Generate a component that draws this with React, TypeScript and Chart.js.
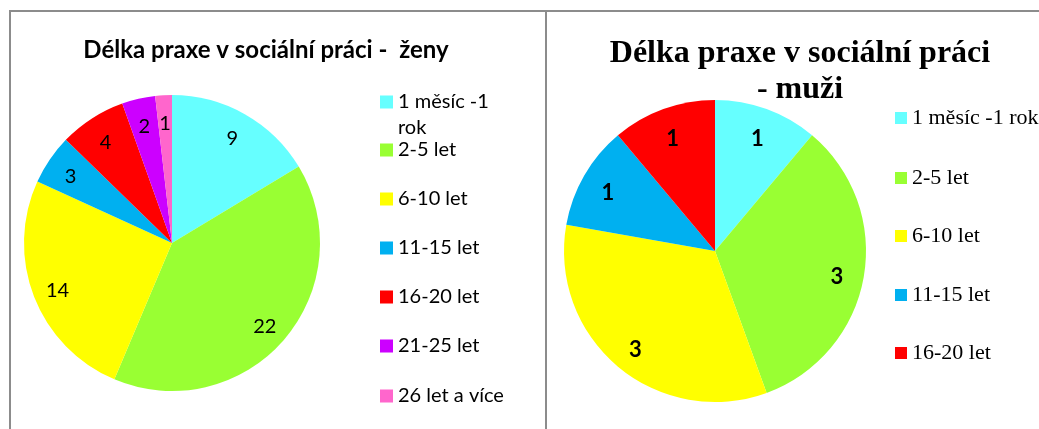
import React, { useEffect, useRef } from "react";
import { Chart, registerables } from "chart.js";

Chart.register(...registerables);

const womenLabels = ["1 měsíc -1 rok", "2-5 let", "6-10 let", "11-15 let", "16-20 let", "21-25 let", "26 let a více"];
const womenLegendLines = [["1 měsíc -1", "rok"], ["2-5 let"], ["6-10 let"], ["11-15 let"], ["16-20 let"], ["21-25 let"], ["26 let a více"]];
const womenValues = [9, 22, 14, 3, 4, 2, 1];
const womenColors = ["#66FFFF", "#99FF33", "#FFFF00", "#00B0F0", "#FF0000", "#CC00FF", "#FF66CC"];
const womenTitle = ["Délka praxe v sociální práci -  ženy"];

const menLabels = ["1 měsíc -1 rok", "2-5 let", "6-10 let", "11-15 let", "16-20 let"];
const menLegendLines = [["1 měsíc -1 rok"], ["2-5 let"], ["6-10 let"], ["11-15 let"], ["16-20 let"]];
const menValues = [1, 3, 3, 1, 1];
const menColors = ["#66FFFF", "#99FF33", "#FFFF00", "#00B0F0", "#FF0000"];
const menTitle = ["Délka praxe v sociální práci", "- muži"];

const W = 1039;
const H = 429;

type Cfg = {
  title: string[];
  titleFont: string;
  titleX: number;
  titleY: number[];
  legendLines: string[][];
  legendFont: string;
  legendBoxX: number;
  legendBox: number;
  legendTextX: number;
  legendY: number[];
  legendLineH: number;
  legendColors: string[];
  labelFont: string;
  labelFactor: number;
  labelDy: number;
};

function makePlugin(cfg: Cfg) {
  return {
    id: "custom",
    afterDraw(chart: any) {
      const ctx = chart.ctx as CanvasRenderingContext2D;
      ctx.save();
      ctx.fillStyle = "#000";
      // title
      ctx.font = cfg.titleFont;
      ctx.textAlign = "center";
      ctx.textBaseline = "alphabetic";
      cfg.title.forEach((t, i) => ctx.fillText(t, cfg.titleX, cfg.titleY[i]));
      // legend
      ctx.font = cfg.legendFont;
      ctx.textAlign = "left";
      ctx.textBaseline = "middle";
      cfg.legendLines.forEach((lines, i) => {
        const y = cfg.legendY[i];
        ctx.fillStyle = cfg.legendColors[i];
        ctx.fillRect(cfg.legendBoxX, y - cfg.legendBox / 2, cfg.legendBox, cfg.legendBox);
        ctx.fillStyle = "#000";
        lines.forEach((l, j) => ctx.fillText(l, cfg.legendTextX, y + j * cfg.legendLineH));
      });
      // data labels
      const meta = chart.getDatasetMeta(0);
      const data = chart.data.datasets[0].data;
      ctx.font = cfg.labelFont;
      ctx.textAlign = "center";
      ctx.textBaseline = "middle";
      meta.data.forEach((arc: any, i: number) => {
        const p = arc.getProps(["x", "y", "startAngle", "endAngle", "outerRadius"], true);
        const mid = (p.startAngle + p.endAngle) / 2;
        const r = p.outerRadius * cfg.labelFactor;
        ctx.fillText(String(data[i]), p.x + Math.cos(mid) * r, p.y + Math.sin(mid) * r + cfg.labelDy);
      });
      ctx.restore();
    },
  };
}

function PieCanvas(props: {
  labels: string[];
  values: number[];
  colors: string[];
  padding: { left: number; right: number; top: number; bottom: number };
  cfg: Cfg;
}) {
  const ref = useRef<HTMLCanvasElement | null>(null);
  useEffect(() => {
    if (!ref.current) return;
    const chart = new Chart(ref.current, {
      type: "pie",
      data: {
        labels: props.labels,
        datasets: [
          {
            data: props.values,
            backgroundColor: props.colors,
            borderWidth: 0,
          },
        ],
      },
      options: {
        responsive: false,
        animation: false,
        layout: { padding: props.padding },
        plugins: {
          legend: { display: false },
          title: { display: false },
          tooltip: { enabled: false },
        },
      },
      plugins: [makePlugin(props.cfg)],
    });
    return () => chart.destroy();
  }, []);
  return (
    <canvas
      ref={ref}
      width={W}
      height={H}
      style={{ position: "absolute", left: 0, top: 0, width: W, height: H }}
    />
  );
}

const womenCfg: Cfg = {
  title: womenTitle,
  titleFont: "bold 24px Lato",
  titleX: 266,
  titleY: [58],
  legendLines: womenLegendLines,
  legendFont: "20px Lato",
  legendBoxX: 380,
  legendBox: 13,
  legendTextX: 398,
  legendY: [102, 150, 199, 248, 297, 346, 396],
  legendLineH: 26,
  legendColors: womenColors,
  labelFont: "20px Lato",
  labelFactor: 0.83,
  labelDy: 3,
};

const menCfg: Cfg = {
  title: menTitle,
  titleFont: "bold 32px 'Liberation Serif'",
  titleX: 800,
  titleY: [62, 98],
  legendLines: menLegendLines,
  legendFont: "22px 'Liberation Serif'",
  legendBoxX: 895,
  legendBox: 12,
  legendTextX: 912,
  legendY: [118, 178, 236, 295, 353],
  legendLineH: 24,
  legendColors: menColors,
  labelFont: "bold 22px Lato",
  labelFactor: 0.82,
  labelDy: 4,
};

export default function App() {
  return (
    <div style={{ position: "fixed", left: 0, top: 0, width: W, height: H, background: "#fff", overflow: "hidden" }}>
      <div style={{ position: "absolute", left: 9, top: 10, width: W - 9, height: 2, background: "#8c8c8c" }} />
      <div style={{ position: "absolute", left: 9, top: 10, width: 2, height: H - 10, background: "#8c8c8c" }} />
      <div style={{ position: "absolute", left: 545, top: 10, width: 2, height: H - 10, background: "#8c8c8c" }} />
      <PieCanvas
        labels={womenLabels}
        values={womenValues}
        colors={womenColors}
        padding={{ left: 24, right: W - 320, top: 95, bottom: H - 391 }}
        cfg={womenCfg}
      />
      <PieCanvas
        labels={menLabels}
        values={menValues}
        colors={menColors}
        padding={{ left: 564, right: W - 866, top: 100, bottom: H - 402 }}
        cfg={menCfg}
      />
    </div>
  );
}
